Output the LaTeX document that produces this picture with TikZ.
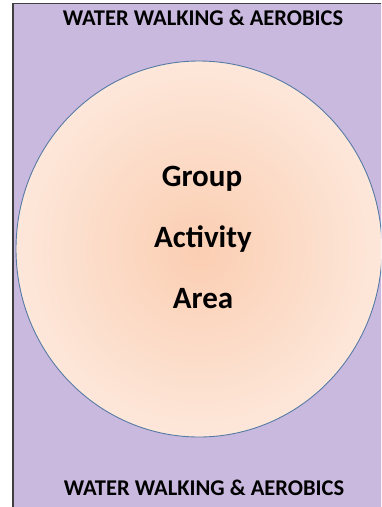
\documentclass[tikz,border=0pt]{standalone}
\usepackage{fontspec}
\setmainfont{Carlito}
\usetikzlibrary{shapes.geometric}
\definecolor{pool}{RGB}{201,185,222}
\definecolor{frame}{RGB}{64,64,64}
\definecolor{ringc}{RGB}{88,122,165}
\definecolor{peachin}{RGB}{251,206,178}
\definecolor{peachout}{RGB}{253,231,218}
\tikzset{
  heading/.style={font=\bfseries\fontsize{22.5}{26}\selectfont, text=black, inner sep=0pt},
  areatext/.style={font=\bfseries\fontsize{31}{36}\selectfont, text=black, inner sep=0pt},
}
\begin{document}
\begin{tikzpicture}[x=1pt,y=-1pt]
\useasboundingbox (0,0) rectangle (381,507);
\clip (0,0) rectangle (381,507);
\fill[white] (0,0) rectangle (381,507);
\draw[frame, line width=1.8pt, fill=pool] (13,3.5) rectangle (395,520);
\node[ellipse, draw=ringc, line width=0.9pt, inner color=peachin, outer color=peachout,
      minimum width=366pt, minimum height=376pt, inner sep=0pt] (area) at (199,249) {};
\node[heading] (top) at (203,17.5) {WATER WALKING \& AEROBICS};
\node[heading] (bottom) at (204,488) {WATER WALKING \& AEROBICS};
\node[areatext, anchor=base] (l1) at (202,186.5) {Group};
\node[areatext, anchor=base] (l2) at (203,247.5) {Activity};
\node[areatext, anchor=base] (l3) at (203,308.5) {Area};
\end{tikzpicture}
\end{document}
